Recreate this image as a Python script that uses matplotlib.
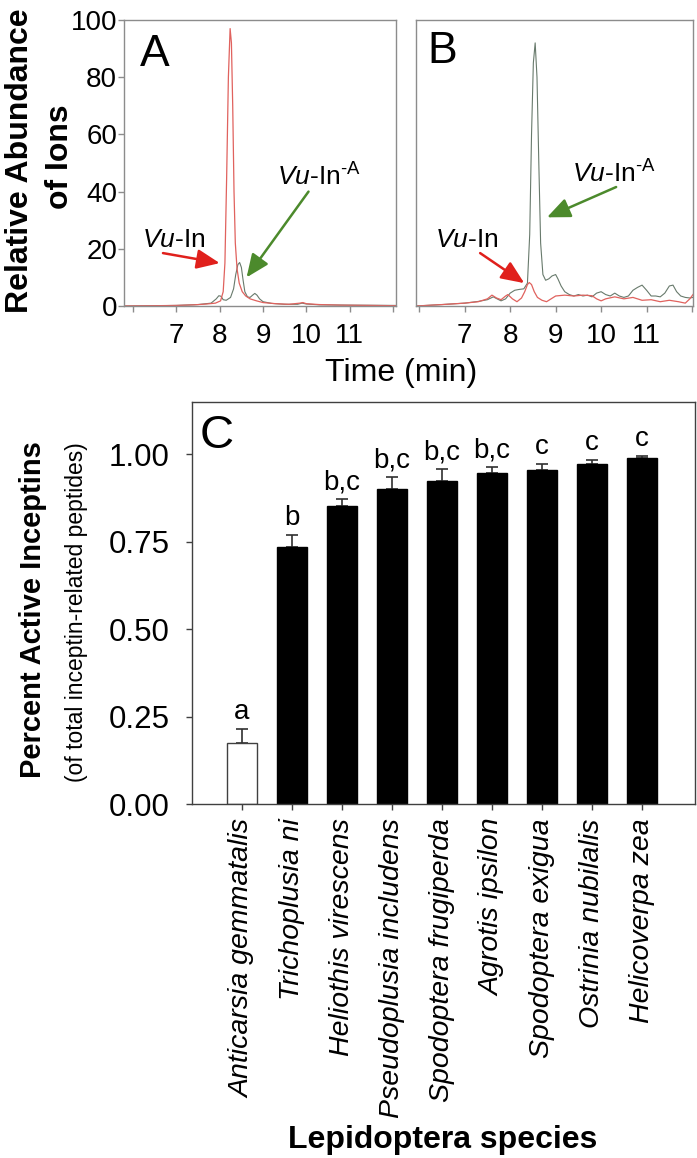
import numpy as np
import matplotlib
matplotlib.use("Agg")
import matplotlib.pyplot as plt

plt.rcParams['font.family'] = ['Liberation Sans', 'DejaVu Sans']
plt.rcParams['mathtext.fontset'] = 'custom'
plt.rcParams['mathtext.rm'] = 'Liberation Sans'
plt.rcParams['mathtext.it'] = 'Liberation Sans:italic'
plt.rcParams['mathtext.bf'] = 'Liberation Sans:bold'

# ---- chromatogram traces (time in min, relative abundance) ----
a_red_t = [5.79, 6.5, 7.0, 7.4, 7.7, 7.9, 8.02, 8.08, 8.12, 8.16, 8.20, 8.24, 8.27, 8.30,
           8.33, 8.36, 8.40, 8.45, 8.52, 8.60, 8.70, 8.85, 9.0, 9.3, 9.6, 9.85, 9.92, 10.0,
           10.3, 10.8, 11.5, 12.07]
a_red_y = [0.0, 0.1, 0.2, 0.4, 0.7, 1.0, 1.8, 5, 15, 45, 80, 97, 92, 70,
           40, 22, 13, 8, 5, 3.5, 2.5, 1.8, 1.2, 0.8, 0.6, 1.0, 1.2, 0.8,
           0.5, 0.3, 0.2, 0.1]
a_grn_t = [5.79, 6.5, 7.0, 7.5, 7.8, 7.92, 7.98, 8.03, 8.08, 8.15, 8.25, 8.32, 8.37, 8.42,
           8.46, 8.50, 8.54, 8.58, 8.64, 8.70, 8.76, 8.81, 8.86, 8.92, 9.0, 9.2, 9.5, 9.8,
           9.9, 10.0, 10.3, 11.0, 12.07]
a_grn_y = [0.0, 0.1, 0.2, 0.5, 1.0, 2.5, 3.6, 3.4, 2.2, 2.0, 3.0, 6, 11, 14.5,
           15.2, 13.5, 9, 5, 3.2, 3.0, 3.8, 4.4, 3.8, 2.5, 1.5, 0.9, 0.6, 0.6,
           1.0, 0.7, 0.4, 0.3, 0.2]

b_grn_t = [5.93, 6.5, 7.0, 7.3, 7.5, 7.63, 7.7, 7.8, 7.9, 8.0, 8.1, 8.2, 8.3, 8.38, 8.43,
           8.47, 8.51, 8.55, 8.59, 8.63, 8.67, 8.72, 8.78, 8.85, 8.92, 9.0, 9.05, 9.12, 9.2,
           9.3, 9.4, 9.5, 9.6, 9.7, 9.8, 9.9, 10.0, 10.1, 10.2, 10.3, 10.4, 10.5, 10.6, 10.7,
           10.8, 10.9, 11.0, 11.1, 11.2, 11.3, 11.4, 11.5, 11.58, 11.66, 11.75, 11.85, 11.95,
           12.02]
b_grn_y = [0.0, 0.5, 1.0, 1.6, 2.2, 3.2, 2.6, 1.8, 2.5, 4.5, 5.5, 5.8, 6.0, 8, 25,
           60, 85, 92, 80, 50, 22, 11, 9, 9.5, 10.5, 11, 9.5, 7, 5,
           4, 3.5, 4, 3.5, 3.8, 3.2, 4.5, 5, 4, 3.5, 4.5, 3.5, 3.0, 3.5, 5.5,
           6.5, 7.3, 5.5, 3.5, 3.5, 3.2, 4.5, 7.0, 7.3, 5, 3.5, 3.0, 2.8,
           3.0]
b_red_t = [5.93, 6.5, 7.0, 7.3, 7.5, 7.6, 7.7, 7.8, 7.9, 7.95, 8.05, 8.15, 8.25, 8.32,
           8.38, 8.42, 8.47, 8.53, 8.6, 8.7, 8.8, 8.9, 9.0, 9.2, 9.4, 9.6, 9.8, 9.9, 10.0,
           10.1, 10.3, 10.5, 10.7, 10.9, 11.1, 11.3, 11.5, 11.7, 11.85, 11.95, 12.02]
b_red_y = [0.0, 0.5, 1.0, 1.5, 2.5, 3.8, 2.8, 2.2, 3.5, 4.0, 2.5, 1.5, 2.8, 5.0,
           7.5, 8.2, 7.5, 5.0, 3.0, 2.0, 1.5, 2.5, 3.5, 3.8, 3.5, 3.8, 3.6, 2.5, 1.8,
           2.5, 3.2, 2.5, 3.0, 2.0, 2.2, 1.5, 2.0, 1.5, 1.0, 2.5, 4.0]

time_ticks = [6, 7, 8, 9, 10, 11, 12]
time_labels = ['', '7', '8', '9', '10', '11', '']

# ---- bar chart data ----
species = ['Anticarsia gemmatalis', 'Trichoplusia ni', 'Heliothis virescens',
           'Pseudoplusia includens', 'Spodoptera frugiperda', 'Agrotis ipsilon',
           'Spodoptera exigua', 'Ostrinia nubilalis', 'Helicoverpa zea']
active = [0.175, 0.735, 0.851, 0.899, 0.923, 0.945, 0.954, 0.971, 0.988]
sem = [0.040, 0.034, 0.020, 0.035, 0.034, 0.017, 0.017, 0.012, 0.006]
groups = ['a', 'b', 'b,c', 'b,c', 'b,c', 'b,c', 'c', 'c', 'c']

W, H = 697, 1158
fig = plt.figure(figsize=(W / 100, H / 100), dpi=100)


def box(l, t, r, b):
    return [l / W, 1 - b / H, (r - l) / W, (b - t) / H]


RED = '#e0625e'
GRN = '#687a6c'
ARROW_RED = '#e0201c'
ARROW_GRN = '#4c8a2c'
SPINE = '#8c8c8c'

axA = fig.add_axes(box(124, 20, 396, 306))
axB = fig.add_axes(box(416, 20, 693, 306))

for ax, xl in [(axA, (5.79, 12.07)), (axB, (5.93, 12.02))]:
    ax.set_xlim(*xl)
    ax.set_ylim(0, 100)
    for s in ax.spines.values():
        s.set_color(SPINE)
        s.set_linewidth(1.0)
    ax.set_xticks(time_ticks)
    ax.set_xticklabels(time_labels)
    ax.tick_params(axis='x', direction='out', length=4, width=1, color=SPINE,
                   labelsize=20, pad=8)

axA.plot(a_grn_t, a_grn_y, color=GRN, lw=0.8)
axA.plot(a_red_t, a_red_y, color=RED, lw=0.9)
axA.set_yticks([0, 20, 40, 60, 80, 100])
axA.tick_params(axis='y', direction='out', length=4, width=1, color=SPINE,
                labelsize=20, pad=1)

axB.plot(b_grn_t, b_grn_y, color=GRN, lw=0.8)
axB.plot(b_red_t, b_red_y, color=RED, lw=0.9)
axB.set_yticks([])

axA.text(0.06, 0.95, 'A', transform=axA.transAxes, fontsize=32, va='top', ha='left')
axB.text(0.04, 0.96, 'B', transform=axB.transAxes, fontsize=32, va='top', ha='left')

lab_in = r'$\mathit{Vu}$-In'
lab_ina = r'$\mathit{Vu}$-In$^{\text{-A}}$'
arw = lambda c: dict(arrowstyle='-|>,head_length=0.7,head_width=0.3', color=c, lw=1.8,
                     mutation_scale=20, shrinkA=0, shrinkB=0)

axA.text(6.2, 23, lab_in, fontsize=19, va='center', ha='left')
axA.annotate('', xy=(8.0, 15), xytext=(6.69, 18.5), arrowprops=arw(ARROW_RED))
axA.text(9.33, 45, lab_ina, fontsize=19, va='center', ha='left')
axA.annotate('', xy=(8.62, 10), xytext=(10.05, 40), arrowprops=arw(ARROW_GRN))

axB.text(6.35, 23, lab_in, fontsize=19, va='center', ha='left')
axB.annotate('', xy=(8.31, 8.0), xytext=(7.34, 18.5), arrowprops=arw(ARROW_RED))
axB.text(9.36, 46, lab_ina, fontsize=19, va='center', ha='left')
axB.annotate('', xy=(8.81, 31), xytext=(10.33, 41.6), arrowprops=arw(ARROW_GRN))

fig.text(20 / W, 1 - 161 / H, 'Relative Abundance', rotation=90, fontsize=23,
         fontweight='bold', ha='center', va='center')
fig.text(60 / W, 1 - 157 / H, 'of Ions', rotation=90, fontsize=23,
         fontweight='bold', ha='center', va='center')
fig.text(401 / W, 1 - 381 / H, 'Time (min)', fontsize=23, ha='center', va='baseline')

# ---- panel C ----
axC = fig.add_axes(box(192, 402, 695, 804))
x = np.arange(len(species))
colors = ['white'] + ['black'] * (len(species) - 1)
axC.bar(x, active, width=0.6, color=colors, edgecolor=['#404040'] + ['black'] * 8,
        linewidth=1.0, zorder=2)
axC.errorbar(x, active, yerr=[np.zeros(len(sem)), sem], fmt='none', ecolor='#303030',
             elinewidth=1.2, capsize=4.3, capthick=1.2, zorder=1)
for xi, v, e, g in zip(x, active, sem, groups):
    axC.annotate(g, (xi, v + e), xytext=(0, 3), textcoords='offset points',
                 ha='center', va='bottom', fontsize=20)

axC.set_xlim(-1, 9.06)
axC.set_ylim(0, 1.149)
axC.set_yticks([0, 0.25, 0.5, 0.75, 1.0])
axC.set_yticklabels(['0.00', '0.25', '0.50', '0.75', '1.00'])
axC.set_xticks(x)
axC.set_xticklabels(species, rotation=90, fontstyle='italic', fontsize=20.5, va='top')
axC.tick_params(axis='y', direction='out', length=4, width=1, color='#404040',
                labelsize=22.5, pad=12)
axC.tick_params(axis='x', direction='out', length=4.5, width=1, color='#404040', pad=6)
for s in axC.spines.values():
    s.set_color('#404040')
    s.set_linewidth(1.0)

axC.text(0.015, 0.97, 'C', transform=axC.transAxes, fontsize=34, va='top', ha='left')

fig.text(33 / W, 1 - 610 / H, 'Percent Active Inceptins', rotation=90, fontsize=21,
         fontweight='bold', ha='center', va='center')
fig.text(77 / W, 1 - 612 / H, '(of total inceptin-related peptides)', rotation=90,
         fontsize=16.5, ha='center', va='center')
fig.text(443 / W, 1 - 1140 / H, 'Lepidoptera species', fontsize=23, fontweight='bold',
         ha='center', va='center')

fig.savefig('out.png', dpi=100)
